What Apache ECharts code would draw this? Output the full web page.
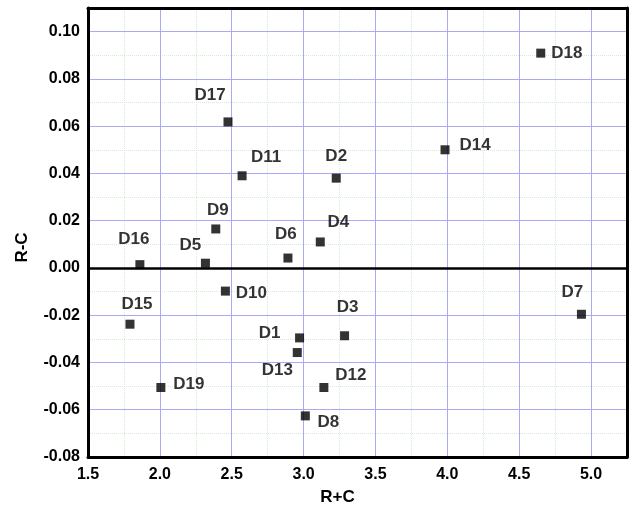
<!DOCTYPE html>
<html>
<head>
<meta charset="utf-8">
<script src="https://cdn.jsdelivr.net/npm/echarts@6/dist/echarts.min.js"></script>
<style>
	html, body { margin: 0; padding: 0; background: #fff; }
	#main { width: 630px; height: 511px; }
</style>
</head>
<body>
<div id="main"></div>
<script>
// data
var names = ['D1', 'D2', 'D3', 'D4', 'D5', 'D6', 'D7', 'D8', 'D9', 'D10',
	'D11', 'D12', 'D13', 'D14', 'D15', 'D16', 'D17', 'D18', 'D19'];
var rPlusC = [2.972, 3.227, 3.285, 3.116, 2.317, 2.891, 4.933, 3.012, 2.389, 2.456,
	2.572, 3.141, 2.956, 3.984, 1.792, 1.861, 2.474, 4.650, 2.007];
var rMinusC = [-0.0296, 0.0380, -0.0287, 0.0110, 0.0020, 0.0042, -0.0196, -0.0626, 0.0165, -0.0098,
	0.0390, -0.0506, -0.0358, 0.0500, -0.0238, 0.0014, 0.0618, 0.0909, -0.0506];

// where each name sits around its marker (px)
var labelOffset = {
	D1: [-30, -5], D2: [0, -22], D3: [3, -28], D4: [18, -20], D5: [-15, -18],
	D6: [-2, -24], D7: [-9, -22], D8: [23, 6], D9: [2, -19], D10: [26, 2],
	D11: [24, -18], D12: [27, -12], D13: [-20, 18], D14: [30, -4], D15: [7, -20],
	D16: [-6, -25], D17: [-18, -27], D18: [26, 0], D19: [28, -3]
};

var points = [];
for (var i = 0; i < names.length; i++) {
	points.push({
		name: names[i],
		value: [rPlusC[i], rMinusC[i]],
		label: { offset: labelOffset[names[i]] }
	});
}

var myChart = echarts.init(document.getElementById('main'));

var font = 'Liberation Sans, Arial, sans-serif';
var majorColor = '#a9a9f5';
var minorColor = '#d6ecd6';

option = {
	animation: false,
	grid: { left: 88, right: 3, top: 8, bottom: 52 },
	xAxis: [
		{ // main axis
			type: 'value', position: 'bottom', min: 1.5, max: 5.25, interval: 0.5, z: 1,
			name: 'R+C', nameLocation: 'middle', nameGap: 32,
			nameTextStyle: { color: '#000', fontFamily: font, fontWeight: 'bold', fontSize: 17, padding: [0, 40, 0, 0] },
			axisLine: { show: true, onZero: false, lineStyle: { color: '#000', width: 3 } },
			axisTick: { show: false },
			axisLabel: {
				color: '#000', fontFamily: font, fontWeight: 'bold', fontSize: 16, margin: 10,
				showMaxLabel: false,
				formatter: function (v) { return v.toFixed(1); }
			},
			splitLine: { show: true, lineStyle: { color: majorColor, width: 1 } }
		},
		{ // top border
			type: 'value', position: 'top', min: 1.5, max: 5.25, z: 4,
			axisLine: { show: true, onZero: false, lineStyle: { color: '#000', width: 3 } },
			axisTick: { show: false }, axisLabel: { show: false }, splitLine: { show: false }
		},
		{ // minor grid
			type: 'value', min: 1.5, max: 5.25, interval: 0.25, z: 0,
			axisLine: { show: false }, axisTick: { show: false }, axisLabel: { show: false },
			splitLine: { show: true, lineStyle: { color: minorColor, type: 'dotted', width: 1 } }
		}
	],
	yAxis: [
		{ // main axis
			type: 'value', position: 'left', min: -0.08, max: 0.11, interval: 0.02, z: 1,
			name: 'R-C', nameLocation: 'middle', nameGap: 57, nameRotate: 90,
			nameTextStyle: { color: '#000', fontFamily: font, fontWeight: 'bold', fontSize: 17, padding: [0, 30, 0, 0] },
			axisLine: { show: true, onZero: false, lineStyle: { color: '#000', width: 3 } },
			axisTick: { show: false },
			axisLabel: {
				color: '#000', fontFamily: font, fontWeight: 'bold', fontSize: 16, margin: 8,
				showMaxLabel: false,
				formatter: function (v) { return v.toFixed(2); }
			},
			splitLine: { show: true, lineStyle: { color: majorColor, width: 1 } }
		},
		{ // right border
			type: 'value', position: 'right', min: -0.08, max: 0.11, z: 4,
			axisLine: { show: true, onZero: false, lineStyle: { color: '#000', width: 3 } },
			axisTick: { show: false }, axisLabel: { show: false }, splitLine: { show: false }
		},
		{ // minor grid
			type: 'value', min: -0.08, max: 0.11, interval: 0.01, z: 0,
			axisLine: { show: false }, axisTick: { show: false }, axisLabel: { show: false },
			splitLine: { show: true, lineStyle: { color: minorColor, type: 'dotted', width: 1 } }
		}
	],
	series: [
		{
			type: 'scatter',
			xAxisIndex: 0,
			yAxisIndex: 0,
			symbol: 'rect',
			symbolSize: 9,
			itemStyle: { color: '#000' },
			label: {
				show: true,
				position: 'inside',
				formatter: '{b}',
				color: '#000',
				fontFamily: font,
				fontWeight: 'bold',
				fontSize: 17
			},
			data: points,
			markLine: {
				silent: true,
				symbol: 'none',
				label: { show: false },
				lineStyle: { color: '#000', width: 2.5, type: 'solid' },
				data: [{ yAxis: 0 }]
			}
		}
	]
};

myChart.setOption(option);
</script>
</body>
</html>
